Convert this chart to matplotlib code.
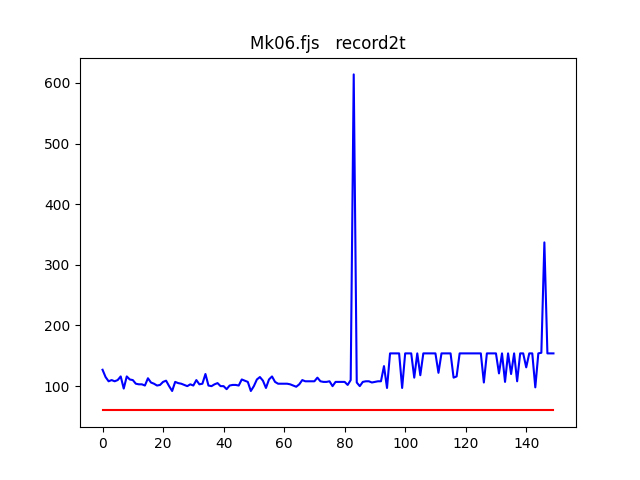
import matplotlib
matplotlib.use("Agg")
import matplotlib.pyplot as plt

title = "Mk06.fjs   record2t"

record = [
    127, 115, 108, 110, 108, 110, 116, 96, 116, 111,
    110, 104, 103, 103, 101, 113, 106, 104, 101, 102,
    107, 109, 100, 92, 107, 105, 104, 102, 100, 103,
    101, 110, 103, 104, 120, 101, 100, 103, 105, 100,
    100, 95, 101, 102, 102, 101, 111, 109, 107, 92,
    100, 111, 115, 109, 97, 111, 116, 107, 104, 104,
    104, 104, 103, 101, 99, 103, 110, 108, 108, 108,
    108, 114, 108, 107, 107, 108, 100, 107, 107, 107,
    107, 102, 110, 614, 106, 100, 107, 108, 108, 106,
    107, 108, 108, 133, 97, 154, 154, 154, 154, 97,
    154, 154, 154, 114, 154, 118, 154, 154, 154, 154,
    154, 122, 154, 154, 154, 154, 114, 116, 154, 154,
    154, 154, 154, 154, 154, 154, 106, 154, 154, 154,
    154, 121, 154, 107, 154, 120, 154, 108, 154, 154,
    131, 154, 154, 98, 154, 155, 337, 154, 154, 154,
]
baseline_value = 60

x = list(range(len(record)))
baseline = [baseline_value] * len(record)

fig, ax = plt.subplots(figsize=(6.4, 4.8), dpi=100)
ax.plot(x, record, color="blue")
ax.plot(x, baseline, color="red")
ax.set_title(title)
fig.savefig("out.png")
